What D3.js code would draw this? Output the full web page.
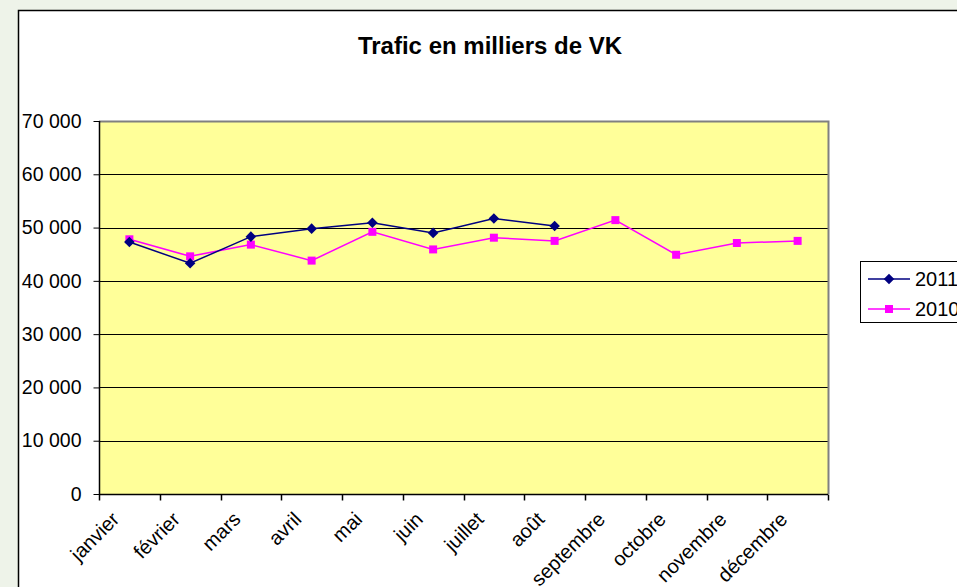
<!DOCTYPE html>
<html>
<head>
<meta charset="utf-8">
<script src="https://cdn.jsdelivr.net/npm/d3@7"></script>
<style>
  body { margin: 0; background: #eef3e9; }
  text { font-family: "Liberation Sans", Arial, sans-serif; }
</style>
</head>
<body>
<script>
// data
var months = ["janvier", "février", "mars", "avril", "mai", "juin", "juillet",
              "août", "septembre", "octobre", "novembre", "décembre"];
var values2011 = [47300, 43300, 48300, 49800, 50900, 49000, 51700, 50300];
var values2010 = [47800, 44600, 46800, 43800, 49200, 45900, 48100, 47500,
                  51400, 44900, 47100, 47500];
var yTicks = [0, 10000, 20000, 30000, 40000, 50000, 60000, 70000];

var W = 957, H = 587;
var plot = {left: 99, right: 828, top: 121, bottom: 494};

var svg = d3.select("body").append("svg")
    .attr("width", W)
    .attr("height", H);

// chart area
svg.append("rect")
    .attr("x", 18.5).attr("y", 10.5)
    .attr("width", W).attr("height", H)
    .attr("fill", "#fff")
    .attr("stroke", "#000")
    .attr("stroke-width", 1.5);

// scales
var x = d3.scaleBand()
    .domain(months)
    .range([plot.left, plot.right]);

var y = d3.scaleLinear()
    .domain([0, 70000])
    .range([plot.bottom, plot.top]);

var fmt = function(d) { return d3.format(",")(d).replace(/,/g, " "); };

// plot area
svg.append("rect")
    .attr("x", plot.left).attr("y", plot.top)
    .attr("width", plot.right - plot.left)
    .attr("height", plot.bottom - plot.top)
    .attr("fill", "#ffff99");

// grid lines
svg.append("g").selectAll("line")
    .data(yTicks.filter(function(d) { return d > 0 && d < 70000; }))
  .enter().append("line")
    .attr("x1", plot.left).attr("x2", plot.right)
    .attr("y1", function(d) { return Math.round(y(d)) + 0.5; })
    .attr("y2", function(d) { return Math.round(y(d)) + 0.5; })
    .attr("stroke", "#000")
    .attr("stroke-width", 1);

// plot border top / right (grey)
svg.append("path")
    .attr("d", "M" + plot.left + "," + (plot.top + 0.5) + "H" + (plot.right + 0.5) + "V" + plot.bottom)
    .attr("fill", "none")
    .attr("stroke", "#808080")
    .attr("stroke-width", 2);

// y axis
var yAxis = svg.append("g")
    .attr("transform", "translate(" + (plot.left + 0.5) + ",0)")
    .call(d3.axisLeft(y).tickValues(yTicks).tickFormat(fmt).tickSize(6).tickPadding(12));
yAxis.select(".domain").attr("stroke", "#000").attr("stroke-width", 1.5)
    .attr("d", "M0," + plot.top + "V" + plot.bottom);
yAxis.selectAll("text")
    .attr("font-size", "19.5px")
    .attr("fill", "#000")
    .attr("font-family", "Liberation Sans, Arial, sans-serif");

// x axis
var xBoundaries = months.map(function(m) { return x(m); }).concat([plot.right]);
var xAxis = svg.append("g")
    .attr("transform", "translate(0," + (plot.bottom + 0.5) + ")");
xAxis.append("line")
    .attr("x1", plot.left).attr("x2", plot.right)
    .attr("stroke", "#000").attr("stroke-width", 1.5);
xAxis.selectAll(".tick")
    .data(xBoundaries)
  .enter().append("line")
    .attr("class", "tick")
    .attr("x1", function(d) { return Math.round(d) + 0.5; })
    .attr("x2", function(d) { return Math.round(d) + 0.5; })
    .attr("y1", 0).attr("y2", 6)
    .attr("stroke", "#000").attr("stroke-width", 1.5);
xAxis.selectAll(".lab")
    .data(months)
  .enter().append("text")
    .attr("class", "lab")
    .attr("text-anchor", "end")
    .attr("font-size", "20px")
    .attr("transform", function(d) {
      return "translate(" + (x(d) + x.bandwidth() / 2 - 19) + ",16) rotate(-45)";
    })
    .attr("dy", "0.71em")
    .text(function(d) { return d; });

// title
svg.append("text")
    .attr("x", 490).attr("y", 54)
    .attr("text-anchor", "middle")
    .attr("font-size", "24px")
    .attr("font-weight", "bold")
    .text("Trafic en milliers de VK");

// series
var series = [
  {name: "2011", values: values2011, color: "#000080", rot: 45, size: 56},
  {name: "2010", values: values2010, color: "#ff00ff", rot: 0, size: 64}
];

var line = d3.line()
    .x(function(d, i) { return x(months[i]) + x.bandwidth() / 2; })
    .y(function(d) { return y(d); });

// draw 2010 first so 2011 sits on top
series.slice().reverse().forEach(function(s) {
  svg.append("path")
      .datum(s.values)
      .attr("d", line)
      .attr("fill", "none")
      .attr("stroke", s.color)
      .attr("stroke-width", 1.5);
  svg.append("g").selectAll("path")
      .data(s.values)
    .enter().append("path")
      .attr("transform", function(d, i) {
        return "translate(" + (x(months[i]) + x.bandwidth() / 2) + "," + y(d) + ") rotate(" + s.rot + ")";
      })
      .attr("d", d3.symbol().type(d3.symbolSquare).size(s.size))
      .attr("fill", s.color);
});

// legend
var legend = svg.append("g");
legend.append("rect")
    .attr("x", 860.5).attr("y", 261.5)
    .attr("width", 120).attr("height", 61)
    .attr("fill", "#fff")
    .attr("stroke", "#000")
    .attr("stroke-width", 1);
series.forEach(function(s, i) {
  var ly = 279 + i * 30;
  legend.append("line")
      .attr("x1", 868).attr("x2", 910)
      .attr("y1", ly).attr("y2", ly)
      .attr("stroke", s.color).attr("stroke-width", 1.5);
  legend.append("path")
      .attr("transform", "translate(889," + ly + ") rotate(" + s.rot + ")")
      .attr("d", d3.symbol().type(d3.symbolSquare).size(s.size))
      .attr("fill", s.color);
  legend.append("text")
      .attr("x", 915).attr("y", ly)
      .attr("dy", "0.35em")
      .attr("font-size", "20px")
      .text(s.name);
});
</script>
</body>
</html>
